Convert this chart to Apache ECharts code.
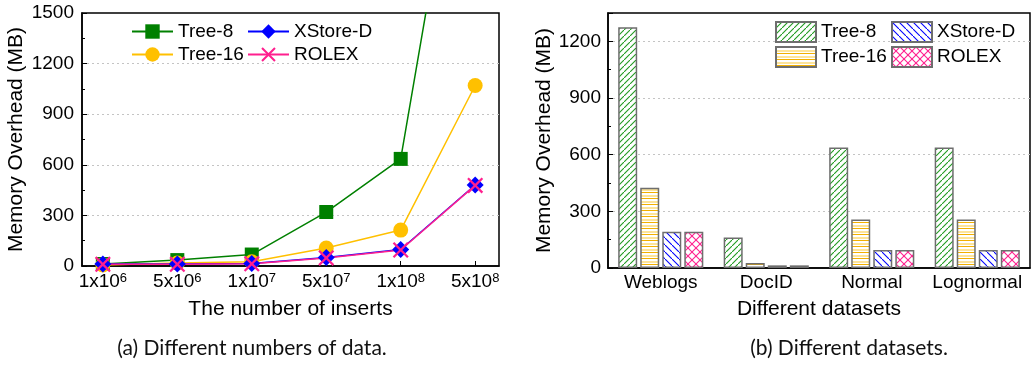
<!DOCTYPE html>
<html>
<head>
<meta charset="utf-8">
<script src="https://cdn.jsdelivr.net/npm/echarts@6/dist/echarts.min.js"></script>
<style>
  html, body { margin: 0; padding: 0; background: #fff; }
  #main { width: 1034px; height: 366px; }
</style>
</head>
<body>
<div id="main"></div>
<script>
// (a) number of inserts -> memory overhead (MB)
var insertLabels = ['1x10^6', '5x10^6', '1x10^7', '5x10^7', '1x10^8', '5x10^8'];
var tree8Inserts = [12, 35, 68, 320, 635, 3200];
var tree16Inserts = [6, 18, 25, 107, 213, 1070];
var xstoreInserts = [12, 12, 15, 50, 98, 480];
var rolexInserts = [10, 10, 13, 48, 95, 478];

// (b) datasets -> memory overhead (MB)
var datasets = ['Weblogs', 'DocID', 'Normal', 'Lognormal'];
var tree8Data = [1275, 162, 638, 638];
var tree16Data = [425, 26, 257, 257];
var xstoreData = [192, 14, 95, 95];
var rolexData = [192, 14, 95, 95];

var seriesNames = ['Tree-8', 'Tree-16', 'XStore-D', 'ROLEX'];
var yTicksA = [0, 1500, 300];
var yTicksB = [0, 1350, 300];

(function () {
  var myChart = echarts.init(document.getElementById('main'));
  var FONT = "'Liberation Sans', Arial, sans-serif";

  // 线条颜色
  var green = '#008000', gold = '#ffc000', blue = '#0000ff', pink = '#ff1f8e';

  // hatch fills for the bars (small canvas tiles)
  function makePattern(kind) {
    var c = document.createElement('canvas');
    var s = kind === 'cross' ? 8 : (kind === 'back' ? 7 : 6);
    c.width = s; c.height = s;
    var ctx = c.getContext('2d');
    ctx.fillStyle = '#fff';
    ctx.fillRect(0, 0, s, s);
    ctx.lineWidth = 1.1;
    function seg(x1, y1, x2, y2, col) {
      ctx.strokeStyle = col;
      ctx.beginPath(); ctx.moveTo(x1, y1); ctx.lineTo(x2, y2); ctx.stroke();
    }
    if (kind === 'slash') {
      seg(-1, s + 1, s + 1, -1, '#1f9a1f');
    } else if (kind === 'back') {
      seg(-1, -1, s + 1, s + 1, '#0000ff');
    } else if (kind === 'cross') {
      seg(-1, s + 1, s + 1, -1, pink);
      seg(-1, -1, s + 1, s + 1, pink);
    } else {
      // horizontal stripes, dark + light
      ctx.fillStyle = '#f2b000';
      ctx.fillRect(0, 0, s, 1);
      ctx.fillStyle = '#fde49a';
      ctx.fillRect(0, 3, s, 2);
    }
    return { image: c, repeat: 'repeat' };
  }

  // X symbol for ROLEX
  var crossPath = 'path://M0,1 L1,0 L5,4 L9,0 L10,1 L6,5 L10,9 L9,10 L5,6 L1,10 L0,9 L4,5 Z';

  function pairs(arr) {
    return arr.map(function (v, i) { return [i, v]; });
  }

  var axisText = { color: '#000', fontSize: 19, fontFamily: FONT };
  var nameText = { color: '#000', fontSize: 21, fontFamily: FONT };
  var dotted = { lineStyle: { color: '#c4c4c4', type: [2, 3], width: 1.2 } };

  function lineSeries(name, data, color, symbol, size) {
    return {
      name: name,
      type: 'line',
      xAxisIndex: 0,
      yAxisIndex: 0,
      data: pairs(data),
      symbol: symbol,
      symbolSize: size,
      clip: true,
      lineStyle: { color: color, width: 1.5 },
      itemStyle: { color: color },
      z: 3
    };
  }

  // bar names get a trailing space so their legend is separate from the lines
  function barSeries(name, data, fill) {
    return {
      name: name + ' ',
      type: 'bar',
      xAxisIndex: 1,
      yAxisIndex: 1,
      data: data,
      barWidth: 19,
      barGap: '16%',
      itemStyle: { color: fill, borderColor: '#6e6e6e', borderWidth: 1.5 }
    };
  }

  var legendText = { color: '#000', fontSize: 19, fontFamily: FONT };
  function trimName(n) { return n.trim(); }
  var barNames = seriesNames.map(function (n) { return n + ' '; });

  var option = {
    backgroundColor: '#fff',
    animation: false,
    textStyle: { fontFamily: FONT },
    grid: [
      { left: 82, top: 13, width: 417, height: 253, show: true, borderColor: '#000', borderWidth: 1.5 },
      { left: 608, top: 13, width: 422, height: 255, show: true, borderColor: '#000', borderWidth: 1.5 }
    ],
    legend: [
      { data: seriesNames.slice(0, 2), orient: 'vertical', left: 126, top: 17, itemWidth: 41, itemHeight: 18, itemGap: 4, textStyle: legendText },
      { data: seriesNames.slice(2, 4), orient: 'vertical', left: 242, top: 17, itemWidth: 41, itemHeight: 18, itemGap: 4, textStyle: legendText },
      { data: barNames.slice(0, 2), formatter: trimName, icon: 'rect', orient: 'vertical', left: 770, top: 16, itemWidth: 40, itemHeight: 20, itemGap: 3, textStyle: legendText },
      { data: barNames.slice(2, 4), formatter: trimName, icon: 'rect', orient: 'vertical', left: 886, top: 16, itemWidth: 40, itemHeight: 20, itemGap: 3, textStyle: legendText }
    ],
    xAxis: [{
      gridIndex: 0,
      type: 'value',
      min: -0.28,
      max: 5.32,
      name: 'The number of inserts',
      nameLocation: 'middle',
      nameGap: 33,
      nameTextStyle: nameText,
      axisLine: { onZero: false, lineStyle: { color: '#000', width: 1.5 } },
      axisTick: { inside: true, length: 5, customValues: [0, 1, 2, 3, 4, 5], lineStyle: { color: '#000' } },
      splitLine: { show: false },
      axisLabel: {
        customValues: [0, 1, 2, 3, 4, 5],
        margin: 6,
        formatter: function (v) {
          var p = insertLabels[Math.round(v)].split('^');
          return '{b|' + p[0] + '}{s|' + p[1] + '}';
        },
        rich: {
          b: { fontSize: 19, color: '#000', fontFamily: FONT },
          s: { fontSize: 13, color: '#000', fontFamily: FONT, verticalAlign: 'top', padding: [0, 0, 6, 0] }
        }
      }
    }, {
      gridIndex: 1,
      type: 'category',
      data: datasets,
      name: 'Different datasets',
      nameLocation: 'middle',
      nameGap: 31,
      nameTextStyle: nameText,
      axisLine: { onZero: false, lineStyle: { color: '#000', width: 1.5 } },
      axisTick: { show: false },
      axisLabel: Object.assign({ margin: 5, interval: 0 }, axisText)
    }],
    yAxis: [{
      gridIndex: 0,
      type: 'value',
      min: yTicksA[0],
      max: yTicksA[1],
      interval: yTicksA[2],
      name: 'Memory Overhead (MB)',
      nameLocation: 'middle',
      nameGap: 55,
      nameTextStyle: nameText,
      axisLine: { show: true, onZero: false, lineStyle: { color: '#000', width: 1.5 } },
      axisTick: { show: true, inside: true, length: 5, lineStyle: { color: '#000' } },
      minorTick: { show: true, splitNumber: 2, length: 3, lineStyle: { color: '#000' } },
      splitLine: Object.assign({ show: true, showMinLine: false, showMaxLine: false }, dotted),
      axisLabel: Object.assign({ margin: 8, formatter: function (v) { return String(v); } }, axisText)
    }, {
      gridIndex: 1,
      type: 'value',
      min: yTicksB[0],
      max: yTicksB[1],
      interval: yTicksB[2],
      name: 'Memory Overhead (MB)',
      nameLocation: 'middle',
      nameGap: 52,
      nameTextStyle: nameText,
      axisLine: { show: true, onZero: false, lineStyle: { color: '#000', width: 1.5 } },
      axisTick: { show: true, inside: true, length: 5, lineStyle: { color: '#000' } },
      minorTick: { show: true, splitNumber: 2, length: 3, lineStyle: { color: '#000' } },
      splitLine: Object.assign({ show: true, showMinLine: false, showMaxLine: false }, dotted),
      axisLabel: Object.assign({ margin: 7, showMaxLabel: false, formatter: function (v) { return String(v); } }, axisText)
    }],
    series: [
      lineSeries('Tree-8', tree8Inserts, green, 'rect', 14),
      lineSeries('Tree-16', tree16Inserts, gold, 'circle', 15),
      lineSeries('XStore-D', xstoreInserts, blue, 'diamond', 17),
      lineSeries('ROLEX', rolexInserts, pink, crossPath, 16),
      barSeries('Tree-8', tree8Data, makePattern('slash')),
      barSeries('Tree-16', tree16Data, makePattern('stripe')),
      barSeries('XStore-D', xstoreData, makePattern('back')),
      barSeries('ROLEX', rolexData, makePattern('cross'))
    ],
    // sub-figure captions
    graphic: [
      { type: 'text', x: 252, y: 348, style: { text: '(a) Different numbers of data.', font: '21px Lato, sans-serif', fill: '#111', align: 'center', verticalAlign: 'middle' } },
      { type: 'text', x: 849, y: 348, style: { text: '(b) Different datasets.', font: '21px Lato, sans-serif', fill: '#111', align: 'center', verticalAlign: 'middle' } }
    ]
  };

  myChart.setOption(option);

  window.addEventListener('resize', function () {
    myChart.resize();
  });
})();
</script>
</body>
</html>
